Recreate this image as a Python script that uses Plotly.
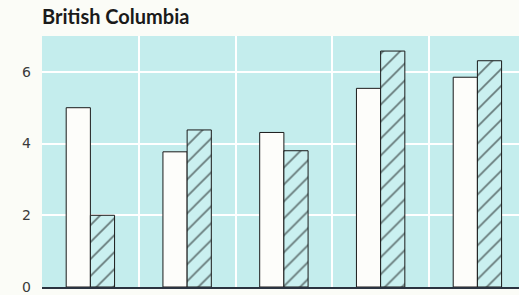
import plotly.graph_objects as go

categories = ["1", "2", "3", "4", "5"]
series_a = [5.0, 3.77, 4.31, 5.54, 5.85]   # open bars
series_b = [2.0, 4.38, 3.80, 6.58, 6.31]   # hatched bars
y_ticks = [0, 2, 4, 6]

BG = "#c4eded"
PAPER = "#fbfcf7"

fig = go.Figure()
fig.add_trace(go.Bar(
    x=categories, y=series_a, name="A",
    marker=dict(color="#fdfdfa", line=dict(color="#1a1a1a", width=1)),
))
fig.add_trace(go.Bar(
    x=categories, y=series_b, name="B",
    marker=dict(color=BG, line=dict(color="#1a1a1a", width=1),
                pattern=dict(shape="/", fgcolor="#000000", bgcolor="#caf0f0",
                             size=12, solidity=0.14)),
))

fig.update_layout(
    width=519, height=295,
    margin=dict(l=42, r=0, t=36, b=8),
    paper_bgcolor=PAPER, plot_bgcolor=BG,
    barmode="group", bargap=0.5, bargroupgap=0,
    showlegend=False,
    title=dict(text="<b>British Columbia</b>", x=42/519, xanchor="left",
               y=1 - 17/295, yanchor="middle",
               font=dict(family="Lato", size=20, color="#1a1a1a")),
    xaxis=dict(type="category", range=[-0.5, 4.43], tickson="boundaries",
               showgrid=True, gridcolor="white", gridwidth=2,
               showticklabels=False, ticks="", automargin=False,
               showline=True, linecolor="#2a3340", linewidth=2,
               zeroline=False),
    yaxis=dict(range=[0, 7], tickvals=y_ticks, showgrid=True,
               gridcolor="white", gridwidth=2, zeroline=False,
               ticks="", ticklabelstandoff=10,
               tickfont=dict(family="DejaVu Sans", size=14, color="#3a3a3a")),
)

fig.write_html("out.html", config={"displayModeBar": False},
               post_script="document.body.style.margin='0px';document.body.style.overflow='hidden';")
